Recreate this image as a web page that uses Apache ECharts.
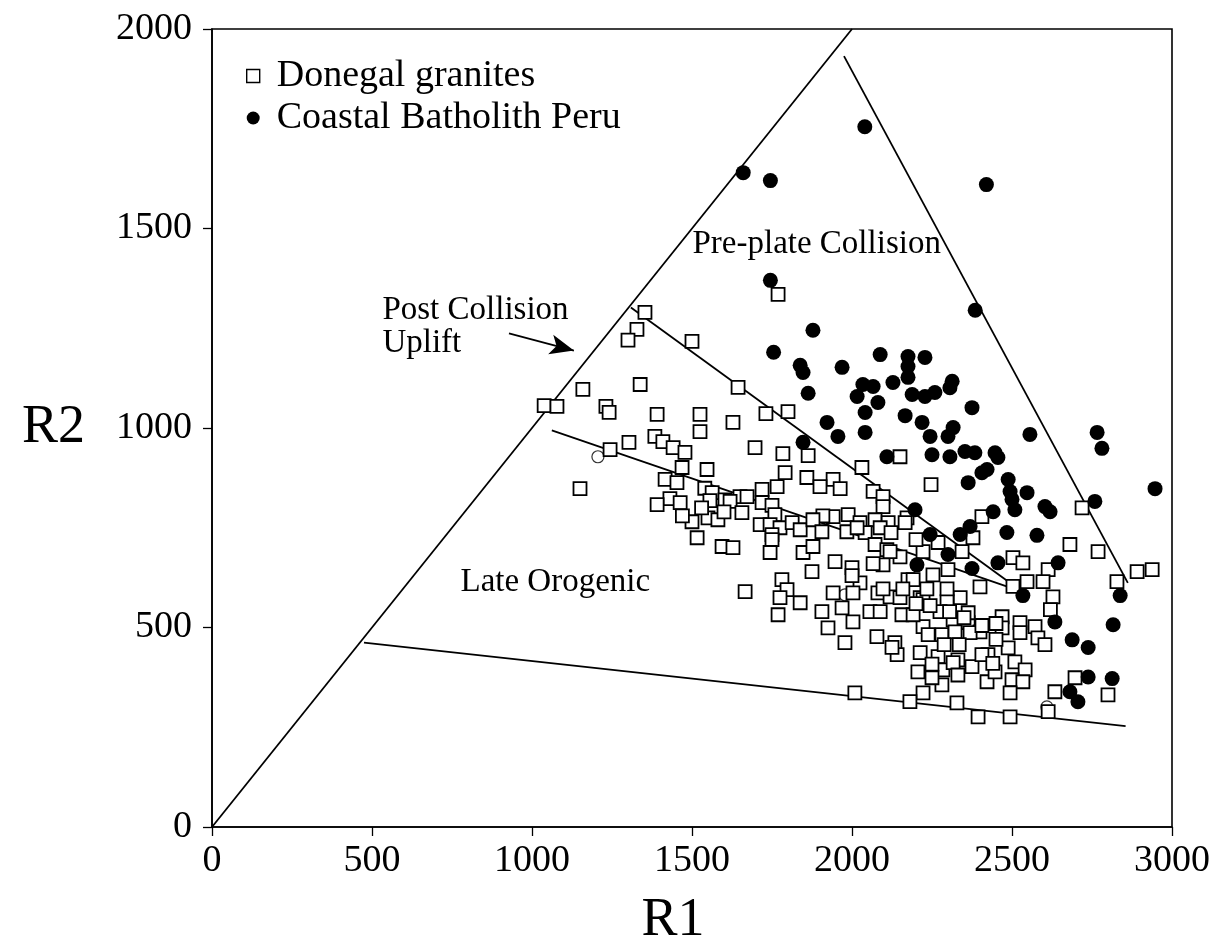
<!DOCTYPE html>
<html>
<head>
<meta charset="utf-8">
<script src="https://cdn.jsdelivr.net/npm/echarts@6/dist/echarts.min.js"></script>
<style>
html,body{margin:0;padding:0;background:#fff;}
#chart{width:1211px;height:951px;}
</style>
</head>
<body>
<div id="chart"></div>
<script>
// ---- Data (R1, R2) ----
const xTicks = [0, 500, 1000, 1500, 2000, 2500, 3000];
const yTicks = [0, 500, 1000, 1500, 2000];

const donegal = [
[1353,1290],[1328,1247],[1300,1220],[1500,1217],[1769,1335],
[1159,1097],[1338,1109],[1644,1102],
[1038,1056],[1078,1054],[1231,1054],[1241,1039],
[1391,1034],[1525,1034],[1525,991],[1731,1036],[1800,1041],[1628,1014],
[1384,979],[1409,966],[1441,951],[1478,939],[1303,964],[1244,946],
[1697,951],[1784,936],[1863,931],[2150,928],
[1469,901],[1547,896],[2031,901],
[1416,871],[1453,863],
[1791,888],[1859,876],[1941,871],[2247,858],
[1150,848],
[1963,848],[1900,853],[1719,846],[1766,853],[1540,849],
[2066,841],[2097,828],[1563,838],[1650,828],[1672,828],
[1431,823],[1463,813],[1391,808],[1556,818],[1603,820],[1619,816],[2097,803],
[1719,813],[1750,806],[1941,778],[1988,783],[1909,780],
[1500,765],[1516,725],[1550,775],[1581,770],[1656,788],
[1713,758],[1759,783],[1744,758],[1775,750],[1813,763],[1838,745],[1878,770],[1906,740],[2025,763],[2072,770],[2113,763],[2172,775],[2406,778],[2719,800],
[1750,733],[1750,720],[1984,740],[2041,738],[2072,708],[2109,695],[2378,725],[2269,713],
[1594,703],[1628,700],[1744,688],[1847,688],[1878,703],[2344,690],[2222,690],[2150,677],[2681,708],[2769,690],
[1947,665],[2000,650],[2097,657],[1875,640],[2503,675],[2534,662],[2613,645],[2253,632],[2300,645],[2828,615],[2891,640],[2938,645],
[2025,612],[1781,620],[1797,595],[1666,590],[1941,587],[2003,587],[2081,587],[2119,577],[2175,620],
[2547,615],[2597,615],[2628,577],[2503,603],[2400,602],[2338,575],[2213,575],[2150,575],[2222,570],[2297,565],
[1838,562],[1775,575],[1769,532],[1906,540],[1925,499],[1978,462],[2003,514],[2056,540],[1969,549],
[2078,477],[2134,462],[2141,432],[2275,540],[2156,532],[2222,502],[2281,482],[2238,482],
[2469,527],[2191,532],[2316,519],[2363,512],[2400,489],[2363,537],[2469,499],
[2525,512],[2525,487],[2572,502],[2581,474],[2603,457],
[2322,489],[2369,487],
[2213,437],[2269,427],[2331,419],[2375,402],[2425,432],[2488,449],[2509,414],[2541,394],
[2206,389],[2284,394],[2281,356],[2316,412],
[2250,374],[2331,381],[2422,364],[2447,389],[2500,369],[2534,364],[2494,336],
[2222,336],[2009,336],[2181,314],[2328,311],[2394,276],[2494,276],[2613,289],[2634,339],[2697,374],[2800,331],
[2016,750],[2088,750],[2122,738],[2166,763],[2200,720],[2119,690],[2066,660],
[2191,620],[2000,630],[2097,597],[2159,597],[2234,597],[2297,597],[2088,540],[2200,560],[2244,555],[2305,540],[2350,525],[2406,505],[2450,510],
[2125,450],[2406,432],[2250,408],[2440,410],[2335,457],[2288,457],[2450,470],
[1470,780],[1600,790],[1530,800],[2620,545]
];

const peru = [
[1660,1640],[1745,1620],[2040,1755],[2420,1610],[1745,1370],[2385,1295],[1755,1190],[1878,1245],
[1838,1157],[1847,1139],[2088,1184],[1969,1152],[2175,1179],[2228,1177],[2175,1154],[2175,1127],
[2034,1109],[2066,1104],[2016,1079],[2128,1114],[2313,1117],[2306,1101],[2188,1084],[2228,1079],[2259,1089],
[1863,1087],[2081,1064],[2041,1039],[2166,1031],[2219,1014],[2244,979],[2316,1001],[2300,979],[2041,989],
[1922,1014],[1956,979],[1847,964],[2109,928],[2250,933],[2306,928],[2353,941],[2384,938],[2447,938],[2456,926],
[2375,1051],[2363,863],[2406,888],[2422,896],[2556,984],[2766,989],[2781,949],
[2488,871],[2494,841],[2500,821],[2509,795],[2547,838],[2603,803],[2619,790],[2759,816],[2947,848],
[2197,795],[2441,790],[2369,753],[2338,733],[2484,738],[2578,731],[2456,662],[2644,662],[2534,580],[2838,580],
[2244,733],[2203,657],[2300,683],[2375,648],[2634,514],[2816,507],[2688,469],[2738,450],[2738,376],[2813,372],[2681,339],[2706,314]
];

const openCircles = [[1206,928],[1978,582],[2609,301]];

// Field boundary lines (end points in R1,R2 units)
const outerLeftLine   = [[0,0],[2000,2000]];
const outerRightLine  = [[1975,1932],[2862,612]];
const postCollUpper   = [[1309,1302],[2531,590]];
const postCollLower   = [[1062,994],[2531,590]];
const lateOrogenicLow = [[475,462],[2855,253]];
const arrowLine       = [[928,1237],[1131,1194]];

const annotations = [
  [1500, 1460, 'Pre-plate Collision'],
  [531, 1295, 'Post Collision'],
  [531, 1212, 'Uplift'],
  [775, 612, 'Late Orogenic']
];

// ---- Chart ----
const chart = echarts.init(document.getElementById('chart'), null, {renderer:'canvas'});
const serif = 'Liberation Serif, Times New Roman, serif';
const lineSeries = (name, d) => ({
  type:'line', name, data:d, symbol:'none', silent:true, z:1,
  lineStyle:{color:'#000', width:1.8}, animation:false
});

const option = {
  backgroundColor:'#fff',
  animation:false,
  grid:{left:212, right:39, top:29, bottom:124, containLabel:false, outerBoundsMode:'none',
    show:true, borderColor:'#000', borderWidth:1.6, backgroundColor:'transparent'},
  xAxis:{
    type:'value', min:0, max:3000, interval:500,
    axisLine:{show:true, onZero:false, lineStyle:{color:'#000', width:1.6}},
    axisTick:{show:true, inside:false, length:9, lineStyle:{color:'#000', width:1.3}},
    axisLabel:{color:'#000', fontFamily:serif, fontSize:38, margin:15, formatter:v=>String(v)},
    splitLine:{show:false},
    name:'R1', nameLocation:'middle', nameGap:67,
    nameTextStyle:{color:'#000', fontFamily:serif, fontSize:54, padding:[0,38,0,0]}
  },
  yAxis:{
    type:'value', min:0, max:2000, interval:500,
    axisLine:{show:true, onZero:false, lineStyle:{color:'#000', width:1.6}},
    axisTick:{show:true, inside:false, length:9, lineStyle:{color:'#000', width:1.3}},
    axisLabel:{color:'#000', fontFamily:serif, fontSize:38, margin:20, formatter:v=>String(v)},
    splitLine:{show:false},
    name:'R2', nameLocation:'middle', nameGap:127, nameRotate:0,
    nameTextStyle:{color:'#000', fontFamily:serif, fontSize:54}
  },
  legend:{
    orient:'vertical', left:241, top:52, itemWidth:13, itemHeight:13, itemGap:4,
    textStyle:{color:'#000', fontFamily:serif, fontSize:38, padding:[0,0,0,12]},
    selectedMode:false,
    data:[
      {name:'Donegal granites', icon:'rect', itemStyle:{color:'#fff', borderColor:'#000', borderWidth:1.4}},
      {name:'Coastal Batholith Peru', icon:'circle', itemStyle:{color:'#000', borderWidth:0}}
    ]
  },
  series:[
    lineSeries('outerLeft', outerLeftLine),
    lineSeries('outerRight', outerRightLine),
    lineSeries('postUpper', postCollUpper),
    lineSeries('postLower', postCollLower),
    lineSeries('lateLow', lateOrogenicLow),
    {
      type:'line', name:'arrow', data:[], silent:true, symbol:'none',
      markLine:{
        silent:true, symbol:['none','arrow'], symbolSize:[15,24],
        label:{show:false},
        lineStyle:{color:'#000', width:1.8, type:'solid'},
        data:[[{coord:arrowLine[0]},{coord:arrowLine[1]}]]
      }
    },
    {
      type:'scatter', name:'Donegal granites', data:donegal, symbol:'rect', symbolSize:13, z:3,
      itemStyle:{color:'#fff', borderColor:'#000', borderWidth:1.8, opacity:1}
    },
    {
      type:'scatter', name:'Coastal Batholith Peru', data:peru, symbol:'circle', symbolSize:15, z:4,
      itemStyle:{color:'#000', opacity:1}
    },
    {
      type:'scatter', name:'open', data:openCircles, symbol:'circle', symbolSize:12, z:2,
      itemStyle:{color:'#fff', borderColor:'#000', borderWidth:1.2}
    },
    {
      type:'scatter', name:'notes', data:annotations, symbolSize:1, silent:true, z:5,
      itemStyle:{color:'rgba(0,0,0,0)'},
      label:{show:true, position:'right', distance:0, formatter:p=>p.data[2],
        color:'#000', opacity:1, textBorderWidth:0, fontFamily:serif, fontSize:33}
    }
  ]
};
chart.setOption(option);
</script>
</body>
</html>
